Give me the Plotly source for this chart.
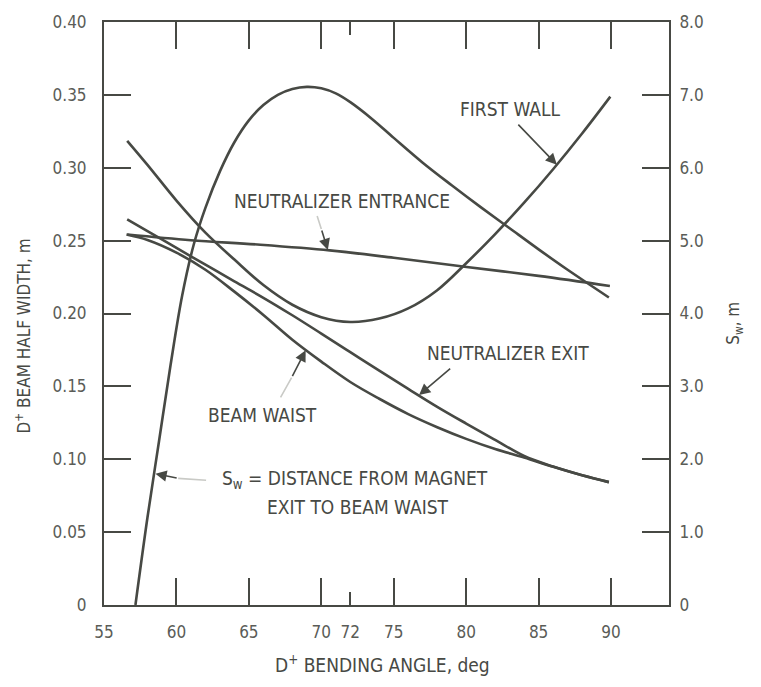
import plotly.graph_objects as go

# ---------------- data ----------------
angle_sw = [57.17, 58.0, 58.8, 59.6, 60.4, 61.2, 62.0, 63.0, 64.0, 65.0, 66.0, 67.0, 68.0,
            69.0, 70.0, 71.0, 72.0, 73.5, 75.0, 77.0, 79.0, 81.0, 83.0, 85.0, 87.0, 89.85]
s_w = [0.0, 1.2, 2.25, 3.3, 4.25, 4.95, 5.45, 5.95, 6.35, 6.65, 6.86, 7.0, 7.08,
       7.11, 7.09, 7.02, 6.9, 6.67, 6.41, 6.07, 5.76, 5.46, 5.17, 4.88, 4.60, 4.22]

angle_fw = [56.6, 58.0, 60.0, 62.0, 64.0, 66.0, 68.0, 70.0, 72.0, 74.0, 76.0, 78.0, 80.0,
            82.0, 84.0, 86.0, 88.0, 89.95]
first_wall = [0.3185, 0.3020, 0.2775, 0.2555, 0.2370, 0.2195, 0.2060, 0.1975, 0.1942, 0.1965,
              0.2035, 0.2160, 0.2345, 0.2545, 0.2760, 0.2990, 0.3235, 0.3488]

angle_ne = [56.6, 61.0, 65.8, 70.58, 75.0, 79.89, 85.0, 89.92]
neut_entrance = [0.2542, 0.2503, 0.2472, 0.2433, 0.2382, 0.2321, 0.2258, 0.2189]

angle_nx = [56.6, 58.0, 60.0, 62.0, 64.0, 66.0, 68.0, 70.0, 72.0, 74.0, 76.0, 78.0, 80.0,
            82.0, 84.0, 86.0, 88.0, 89.85]
neut_exit = [0.2645, 0.2565, 0.2450, 0.2335, 0.2220, 0.2108, 0.1988, 0.1862, 0.1735, 0.1608,
             0.1483, 0.1360, 0.1245, 0.1133, 0.1022, 0.0950, 0.0890, 0.0843]

angle_bw = [56.55, 58.0, 60.0, 62.0, 64.0, 66.0, 68.0, 70.0, 72.0, 74.0, 76.0, 78.0, 80.0,
            82.0, 84.0, 86.0, 88.0, 89.85]
beam_waist = [0.2542, 0.2505, 0.2418, 0.2300, 0.2150, 0.1990, 0.1820, 0.1670, 0.1530, 0.1415,
              0.1310, 0.1220, 0.1140, 0.1070, 0.1012, 0.0948, 0.0890, 0.0843]

x_tickvals = [55, 60, 65, 70, 72, 75, 80, 85, 90]
x_ticktext = ["55", "60", "65", "70", "72", "75", "80", "85", "90"]
x_long_ticks = [60, 65, 70, 75, 80, 85, 90]
y_tickvals = [0, 0.05, 0.10, 0.15, 0.20, 0.25, 0.30, 0.35, 0.40]
y_ticktext = ["0", "0.05", "0.10", "0.15", "0.20", "0.25", "0.30", "0.35", "0.40"]
y2_tickvals = [0, 1, 2, 3, 4, 5, 6, 7, 8]
y2_ticktext = ["0", "1.0", "2.0", "3.0", "4.0", "5.0", "6.0", "7.0", "8.0"]

# ---------------- styling ----------------
INK = "#474944"
TICKINK = "#5a5c57"
FONT = "DejaVu Sans Condensed, Liberation Sans Narrow, DejaVu Sans, sans-serif"
LW = 2.6

fig = go.Figure()
line_style = dict(color=INK, width=LW, shape="spline", smoothing=1.0)
fig.add_trace(go.Scatter(x=angle_fw, y=first_wall, mode="lines", line=line_style, name="First wall"))
fig.add_trace(go.Scatter(x=angle_ne, y=neut_entrance, mode="lines", line=line_style, name="Neutralizer entrance"))
fig.add_trace(go.Scatter(x=angle_nx, y=neut_exit, mode="lines", line=line_style, name="Neutralizer exit"))
fig.add_trace(go.Scatter(x=angle_bw, y=beam_waist, mode="lines", line=line_style, name="Beam waist"))
fig.add_trace(go.Scatter(x=angle_sw, y=s_w, mode="lines", line=line_style, name="S_w", yaxis="y2"))

fig.update_layout(
    width=761, height=687,
    margin=dict(l=104, r=92, t=20, b=82),
    paper_bgcolor="white", plot_bgcolor="white",
    showlegend=False,
    font=dict(family=FONT, color=INK),
    xaxis=dict(
        range=[55, 94], showgrid=False, zeroline=False,
        showline=True, linecolor=INK, linewidth=2, mirror="ticks",
        ticks="inside", ticklen=13, tickwidth=1.8, tickcolor=INK,
        tickvals=x_tickvals, ticktext=x_ticktext,
        tickfont=dict(size=17, color=TICKINK, family=FONT),
        ticklabelstandoff=11,
        minor=dict(tickvals=x_long_ticks, ticks="inside", ticklen=27, tickwidth=1.8, tickcolor=INK,
                   showgrid=False),
    ),
    yaxis=dict(
        range=[0, 0.40], showgrid=False, zeroline=False,
        showline=True, linecolor=INK, linewidth=2, mirror=True,
        ticks="inside", ticklen=27, tickwidth=1.8, tickcolor=INK,
        tickvals=y_tickvals, ticktext=y_ticktext,
        tickfont=dict(size=17, color=TICKINK, family=FONT),
        ticklabelstandoff=12,
    ),
    yaxis2=dict(
        range=[0, 8], overlaying="y", side="right", showgrid=False, zeroline=False,
        showline=True, linecolor=INK, linewidth=2,
        ticks="inside", ticklen=27, tickwidth=1.8, tickcolor=INK,
        tickvals=y2_tickvals, ticktext=y2_ticktext,
        tickfont=dict(size=17, color=TICKINK, family=FONT),
        ticklabelstandoff=5,
    ),
)


def label(text, x, y, xanchor="center", size=19):
    fig.add_annotation(x=x, y=y, xref="x", yref="y", text=text, showarrow=False,
                       xanchor=xanchor, yanchor="middle",
                       font=dict(family=FONT, size=size, color=INK))


def arrow(tail, tip, color=INK, head=2, width=1.6, size=1.4):
    fig.add_annotation(x=tip[0], y=tip[1], ax=tail[0], ay=tail[1],
                       xref="x", yref="y", axref="x", ayref="y",
                       text="", showarrow=True, arrowhead=head, arrowsize=size,
                       arrowwidth=width, arrowcolor=color, standoff=0)


def faint(p0, p1):
    fig.add_annotation(x=p1[0], y=p1[1], ax=p0[0], ay=p0[1],
                       xref="x", yref="y", axref="x", ayref="y",
                       text="", showarrow=True, arrowhead=0, arrowwidth=1.6,
                       arrowcolor="#c9cac6", standoff=0)


# labels
label("FIRST WALL", 83.03, 0.3406)
label("NEUTRALIZER ENTRANCE", 71.40, 0.2770)
label("NEUTRALIZER EXIT", 82.89, 0.1731)
label("BEAM WAIST", 65.93, 0.1306)
label("S<sub>w</sub> = DISTANCE FROM MAGNET", 63.03, 0.0862, xanchor="left")
label("EXIT TO BEAM WAIST", 66.11, 0.0670, xanchor="left")

# arrows
arrow((83.50, 0.3306), (86.26, 0.3021))
faint((69.68, 0.2679), (70.0, 0.2580))
arrow((70.0, 0.2580), (70.45, 0.2436))
arrow((79.0, 0.1630), (76.75, 0.1440))
faint((67.13, 0.1414), (67.95, 0.1560))
arrow((67.95, 0.1560), (68.92, 0.1748))
faint((62.15, 0.0855), (60.12, 0.0869))
arrow((60.12, 0.0869), (58.55, 0.0901))

# axis titles (placed as paper annotations)
fig.add_annotation(x=-0.167, y=0.4615, xref="paper", yref="paper", showarrow=False,
                   text="D<sup>+</sup> BEAM HALF WIDTH, m", textangle=-90,
                   font=dict(family=FONT, size=17, color=INK))
fig.add_annotation(x=0.4928, y=-0.125, xref="paper", yref="paper", showarrow=False,
                   text="D<sup>+</sup> BENDING ANGLE, deg",
                   font=dict(family=FONT, size=19, color=INK))
fig.add_annotation(x=1.1405, y=0.4838, xref="paper", yref="paper", showarrow=False,
                   text="S<sub>w</sub>, m", textangle=-90,
                   font=dict(family=FONT, size=17, color=INK))

fig.write_html("out.html")
